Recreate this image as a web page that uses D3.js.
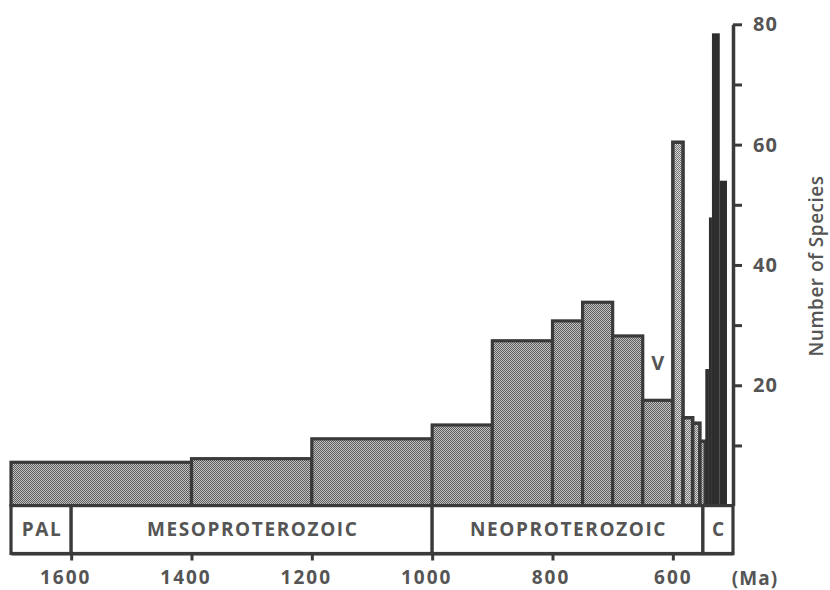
<!DOCTYPE html>
<html>
<head>
<meta charset="utf-8">
<script src="https://cdn.jsdelivr.net/npm/d3@7"></script>
<style>
  html, body { margin: 0; padding: 0; background: #fff; }
  svg { display: block; }
  text { font-family: "Open Sans", "Noto Sans", sans-serif; font-weight: 700; fill: #555; }
</style>
</head>
<body>
<svg id="chart" width="830" height="590"></svg>
<script>
// ---- data ----
const binStart = [1700, 1400, 1200, 1000, 900, 800, 750, 700, 650, 600, 583, 567, 555, 546, 540, 535, 522];
const binEnd   = [1400, 1200, 1000,  900, 800, 750, 700, 650, 600, 583, 567, 555, 546, 540, 535, 522, 510];
const species  = [7.2, 7.8, 11.1, 13.4, 27.4, 30.7, 33.8, 28.2, 17.5, 60.4, 14.6, 13.7, 10.7, 22.7, 47.9, 78.5, 54.0];
const binStyle = ["coarse","coarse","coarse","coarse","coarse","coarse","coarse","coarse","coarse",
                  "fine","fine","fine","fine","solid","solid","solid","solid"];

const periodNames = ["PAL", "MESOPROTEROZOIC", "NEOPROTEROZOIC", "C"];
const periodStart = [1700, 1600, 1000, 550];
const periodEnd   = [1600, 1000, 550, 500];

const xTicks = [1600, 1400, 1200, 1000, 800, 600];
const yTicks = [10, 20, 30, 40, 50, 60, 70, 80];
const yLabelled = [20, 40, 60, 80];

const annotationText = "V";
const annotationAge = 625;
const annotationValue = 22.5;

// ---- layout ----
const svg = d3.select("#chart");
const ink = "#3a3a3a";
const textInk = "#555";

const x = d3.scaleLinear().domain([1700, 500]).range([11, 733]);
const y = d3.scaleLinear().domain([0, 80]).range([505.6, 24.3]);
const boxTop = y(0), boxBottom = 553.5;

// patterns
const defs = svg.append("defs");
function dotPattern(id, base, dot) {
  const p = defs.append("pattern").attr("id", id)
    .attr("width", 2).attr("height", 2).attr("patternUnits", "userSpaceOnUse");
  p.append("rect").attr("width", 2).attr("height", 2).attr("fill", base);
  p.append("rect").attr("x", 0).attr("y", 0).attr("width", 1).attr("height", 1).attr("fill", dot);
  p.append("rect").attr("x", 1).attr("y", 1).attr("width", 1).attr("height", 1).attr("fill", dot);
}
dotPattern("coarse", "#c2c2c2", "#5e5e5e");
dotPattern("fine", "#d6d6d6", "#767676");

const bins = species.map((v, i) => ({ s: binStart[i], e: binEnd[i], v, style: binStyle[i] }));

// bars
svg.append("g").selectAll("rect")
  .data(bins)
  .join("rect")
  .attr("x", d => x(d.s))
  .attr("width", d => x(d.e) - x(d.s))
  .attr("y", d => y(d.v))
  .attr("height", d => y(0) - y(d.v))
  .attr("fill", d => d.style === "solid" ? "#2e2e2e" : (d.style === "fine" ? "url(#fine)" : "url(#coarse)"))
  .attr("stroke", d => d.style === "solid" ? "none" : ink)
  .attr("stroke-width", d => d.style === "fine" ? 3.5 : 3.2);

// period box
const periods = periodNames.map((n, i) => ({ n, s: periodStart[i], e: periodEnd[i] }));
const pg = svg.append("g");
pg.selectAll("rect")
  .data(periods)
  .join("rect")
  .attr("x", d => x(d.s))
  .attr("width", d => x(d.e) - x(d.s))
  .attr("y", boxTop)
  .attr("height", boxBottom - boxTop)
  .attr("fill", "#fff")
  .attr("stroke", ink)
  .attr("stroke-width", 3.2);
pg.selectAll("text")
  .data(periods)
  .join("text")
  .attr("x", d => (x(d.s) + x(d.e)) / 2 + 1)
  .attr("y", (boxTop + boxBottom) / 2)
  .attr("dy", "0.36em")
  .attr("text-anchor", "middle")
  .style("font-size", "19px")
  .style("letter-spacing", "1.6px")
  .text(d => d.n);

// x axis (bottom of the period box)
const xAxis = d3.axisBottom(x).tickValues(xTicks).tickSize(7).tickSizeOuter(0).tickPadding(10)
  .tickFormat(d3.format("d"));
const gx = svg.append("g").attr("transform", `translate(0,${boxBottom})`).call(xAxis);
gx.select(".domain").attr("stroke", ink).attr("stroke-width", 3.2);
gx.selectAll(".tick line").attr("stroke", ink).attr("stroke-width", 3);
gx.selectAll(".tick text").attr("fill", textInk).style("font-size", "19px")
  .attr("dx", d => d >= 1000 ? -6 : (d === 800 ? -2 : 0))
  .style("font-family", "'Open Sans', sans-serif").style("font-weight", "700").style("letter-spacing", "2px");

svg.append("text").attr("x", 755).attr("y", 584.5).attr("text-anchor", "middle")
  .style("font-size", "19px").style("letter-spacing", "1px").text("(Ma)");

// y axis on the right
const yAxis = d3.axisRight(y).tickValues(yTicks).tickSize(9).tickSizeOuter(0).tickPadding(11)
  .tickFormat(d => yLabelled.includes(d) ? d : "");
const gy = svg.append("g").attr("transform", `translate(${x(500)},0)`).call(yAxis);
gy.select(".domain").attr("stroke", ink).attr("stroke-width", 3.5);
gy.selectAll(".tick line").attr("stroke", ink).attr("stroke-width", 3);
gy.selectAll(".tick text").attr("fill", textInk).style("font-size", "20px")
  .style("font-family", "'Open Sans', sans-serif").style("font-weight", "700").style("letter-spacing", "1px");

svg.append("text")
  .attr("transform", "translate(823,266) rotate(-90)")
  .attr("text-anchor", "middle")
  .style("font-size", "19px")
  .style("font-weight", "600")
  .style("letter-spacing", "0.5px")
  .text("Number of Species");

// annotation
svg.append("text")
  .attr("x", x(annotationAge)).attr("y", y(annotationValue))
  .attr("text-anchor", "middle")
  .style("font-size", "20px")
  .text(annotationText);
</script>
</body>
</html>
